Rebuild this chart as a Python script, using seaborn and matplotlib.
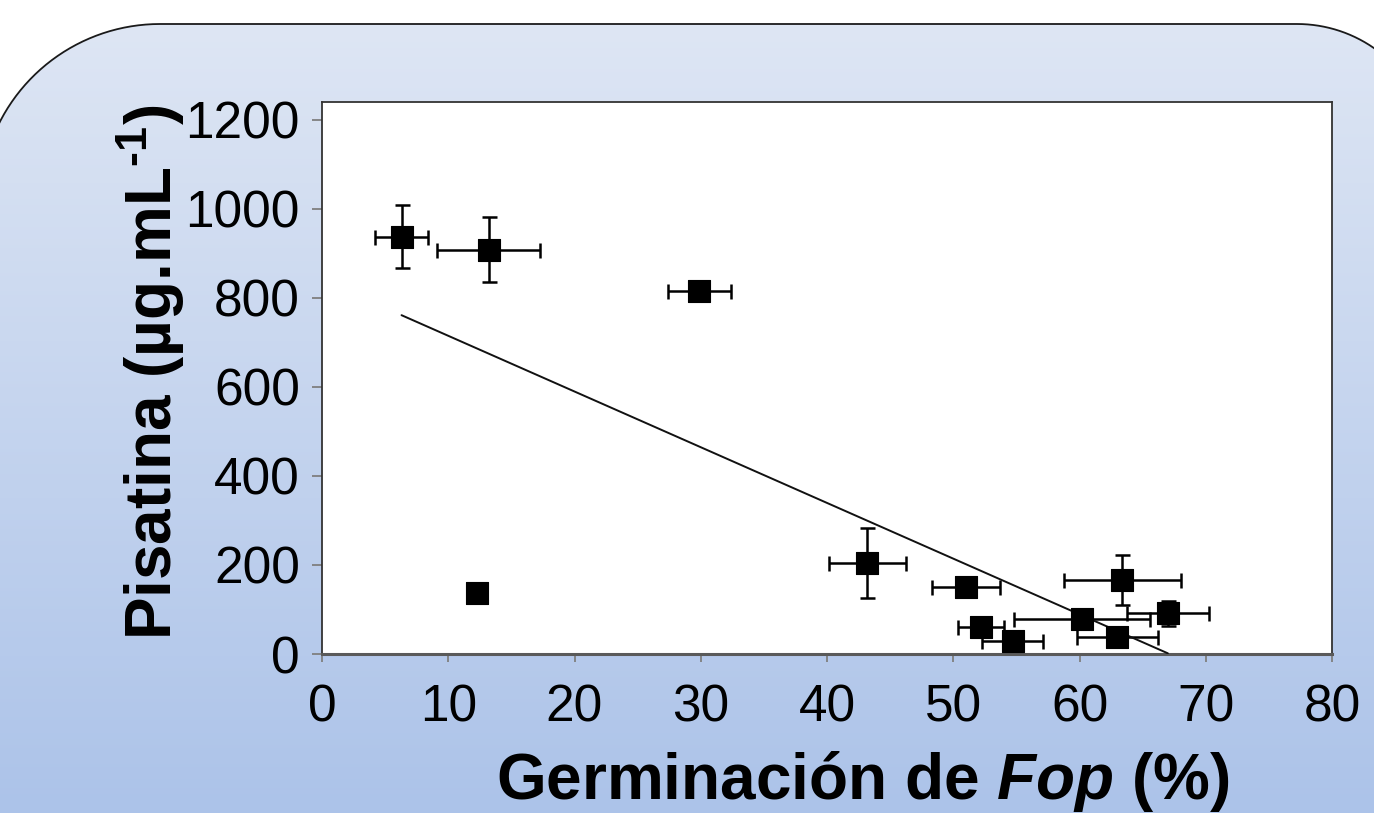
import numpy as np
import pandas as pd
import matplotlib
matplotlib.use('Agg')
from matplotlib import pyplot as plt
from matplotlib.path import Path
from matplotlib.patches import PathPatch
import seaborn as sns

# values
germinacion = [6.3, 13.2, 29.9, 12.3, 43.2, 51.0, 52.2, 54.7, 60.2, 63.0, 63.4, 67.0]
pisatina = [937, 908, 816, 137, 204, 150, 61, 29, 79, 38, 166, 92]
err_germinacion = [2.1, 4.1, 2.5, 0, 3.05, 2.7, 1.8, 2.4, 5.4, 3.2, 4.6, 3.25]
err_pisatina = [71, 73, 15, 0, 78, 15, 15, 15, 15, 15, 56, 28]
x_ticks = [0, 10, 20, 30, 40, 50, 60, 70, 80]
y_ticks = [0, 200, 400, 600, 800, 1000, 1200]

df = pd.DataFrame({'germinacion': germinacion, 'pisatina': pisatina,
                   'xerr': err_germinacion, 'yerr': err_pisatina})

sns.set_theme(style='white', rc={'text.color': 'black', 'axes.labelcolor': 'black'})
plt.rcParams['font.family'] = ['Liberation Sans', 'DejaVu Sans']
plt.rcParams['mathtext.fontset'] = 'custom'
plt.rcParams['mathtext.rm'] = 'Liberation Sans:bold'
plt.rcParams['mathtext.bf'] = 'Liberation Sans:bold'
plt.rcParams['mathtext.it'] = 'Liberation Sans:italic:bold'

W, H = 1374, 813
fig = plt.figure(figsize=(W / 100, H / 100), dpi=100)

#%% background panel with rounded top corners and blue gradient
bg = fig.add_axes([0, 0, 1, 1], zorder=0)
bg.set_xlim(0, W)
bg.set_ylim(H, 0)
bg.axis('off')

def arc(cx, cy, r, a0, a1, n=40):
    t = np.radians(np.linspace(a0, a1, n))
    return np.column_stack([cx + r * np.cos(t), cy + r * np.sin(t)])

left, top, right, bottom = -20, 24, 1432, 900
r_tl, r_tr = 180, 135
verts = np.vstack([[[left, bottom]],
                   arc(left + r_tl, top + r_tl, r_tl, 180, 270),
                   arc(right - r_tr, top + r_tr, r_tr, 270, 360),
                   [[right, bottom]], [[left, bottom]]])
panel = PathPatch(Path(verts, closed=True), facecolor='none', edgecolor='#1a1a1a', lw=1.3, zorder=3)
bg.add_patch(panel)

top_col = np.array([222, 230, 244]) / 255
bot_col = np.array([172, 195, 233]) / 255
frac = np.linspace(0, 1, 256)[:, None]
grad = top_col[None, :] * (1 - frac) + bot_col[None, :] * frac
grad = np.repeat(grad[:, None, :], 2, axis=1)
im = bg.imshow(grad, extent=[left, right, H, top], aspect='auto', zorder=1)
im.set_clip_path(panel)

#%% main chart
ax = fig.add_axes([322 / W, 1 - 654 / H, 1010 / W, 552 / H], zorder=2)
ax.set_facecolor('white')

ax.errorbar(df['germinacion'], df['pisatina'], xerr=df['xerr'], yerr=df['yerr'],
            fmt='none', ecolor='black', elinewidth=1.8, capsize=5.4, capthick=1.8, zorder=2)
sns.regplot(data=df, x='germinacion', y='pisatina', scatter=False, ci=None, truncate=True,
            ax=ax, line_kws=dict(color='#111111', lw=1.4, zorder=3))
sns.scatterplot(data=df, x='germinacion', y='pisatina', marker='s', s=250, color='black',
                edgecolor='black', linewidth=0.8, ax=ax, zorder=4)

ax.set_xlim(0, 80)
ax.set_ylim(0, 1240)
ax.set_xticks(x_ticks)
ax.set_yticks(y_ticks)
ax.tick_params(axis='both', labelsize=37, colors='#7f7f7f', labelcolor='black', direction='out', width=1.3)
ax.tick_params(axis='x', length=6, pad=15, bottom=True)
ax.tick_params(axis='y', length=7, pad=9, left=True)

for side in ['top', 'right', 'left']:
    ax.spines[side].set_color('#333333')
    ax.spines[side].set_linewidth(1.3)
ax.spines['bottom'].set_color('#5a5a5a')
ax.spines['bottom'].set_linewidth(2.2)

ax.set_xlabel(r'Germinación de $\mathit{Fop}$ (%)', fontsize=46, fontweight='bold',
              va='baseline', color='black')
ax.xaxis.set_label_coords(0.535, -0.262)
ax.set_ylabel(r'Pisatina (µg.mL$^{\text{-1}}$)', fontsize=46, fontweight='bold', color='black')
ax.yaxis.set_label_coords(-0.134, 0.51)

fig.savefig('out.png', dpi=100)
